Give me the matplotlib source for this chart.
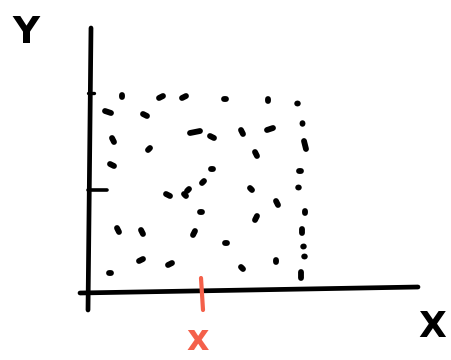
import matplotlib
matplotlib.use("Agg")
import matplotlib.pyplot as plt
from matplotlib.markers import MarkerStyle
from matplotlib.transforms import Affine2D

# Hand-sketched scatter: points in sketch units (origin at the axes corner, y up)
x_vals = [34, 73, 96, 137, 180, 209, 20, 57, 214, 107, 124, 154, 182, 25, 61, 217,
          168, 24, 124, 212, 115, 80, 97, 100, 163, 210, 189, 113, 217, 168, 30, 54,
          106, 214, 138, 215, 53, 82, 188, 216, 22, 154, 213]
y_vals = [196, 195, 195, 193, 192, 189, 180, 177, 169, 160, 155, 160, 163, 152, 143, 147,
          138, 127, 123, 121, 110, 97, 97, 102, 103, 105, 89, 80, 80, 74, 62, 60,
          59, 61, 49, 46, 32, 28, 31, 36, 19, 24, 17]
angles = [60, 30, 30, 20, -50, 0, -20, -30, 90, 15, -20, -50, 20, -60, 45, -75,
          -70, -40, 30, 30, 60, -30, -45, 45, -30, 0, -60, 0, 80, 50, -70, -60,
          70, 90, -10, 10, 30, 20, -80, 0, -30, -60, 90]
dot_len = [1, 3, 3, 1, 1, 0.5, 4, 4, 0.5, 8, 3, 3, 4, 3, 3, 6,
           3, 3, 1, 1, 2, 3, 3, 2, 2, 0.5, 3, 2, 1, 3, 3, 3,
           3, 3, 2, 0.5, 3, 3, 2, 0.5, 1, 2, 5]

x_tick_label = "x"
x_axis_label = "X"
y_axis_label = "Y"

red = "#f4604a"

fig = plt.figure(figsize=(4.52, 3.60), dpi=100)
ax = fig.add_axes([0, 0, 1, 1])
ax.set_xlim(-88, 364)
ax.set_ylim(-68, 292)
ax.axis("off")

# axes strokes
ax.plot([3, 0], [264, -18], color="black", lw=3.4, solid_capstyle="round")
ax.plot([-8, 330], [-1, 5], color="black", lw=3.4, solid_capstyle="round")
# y ticks
ax.plot([0, 6], [199, 199], color="black", lw=2.4, solid_capstyle="round")
ax.plot([0, 19], [102, 102], color="black", lw=2.6, solid_capstyle="round")
# red x tick
ax.plot([113, 115], [14, -18], color=red, lw=3.0, solid_capstyle="round")

for x, y, a, L in zip(x_vals, y_vals, angles, dot_len):
    m = MarkerStyle("_", transform=Affine2D().rotate_deg(a), capstyle="round")
    ax.plot([x], [y], marker=m, markersize=L, mew=4.2, color="black", linestyle="none")

ax.text(110, -48, x_tick_label, color=red, fontsize=25, fontweight="bold",
        ha="center", va="center", family="DejaVu Sans")
ax.text(344, -35, x_axis_label, color="black", fontsize=26, fontweight="bold",
        ha="center", va="center", family="DejaVu Sans")
ax.text(-62, 259, y_axis_label, color="black", fontsize=27, fontweight="bold",
        ha="center", va="center", family="DejaVu Sans")

fig.savefig("out.png", dpi=100)
